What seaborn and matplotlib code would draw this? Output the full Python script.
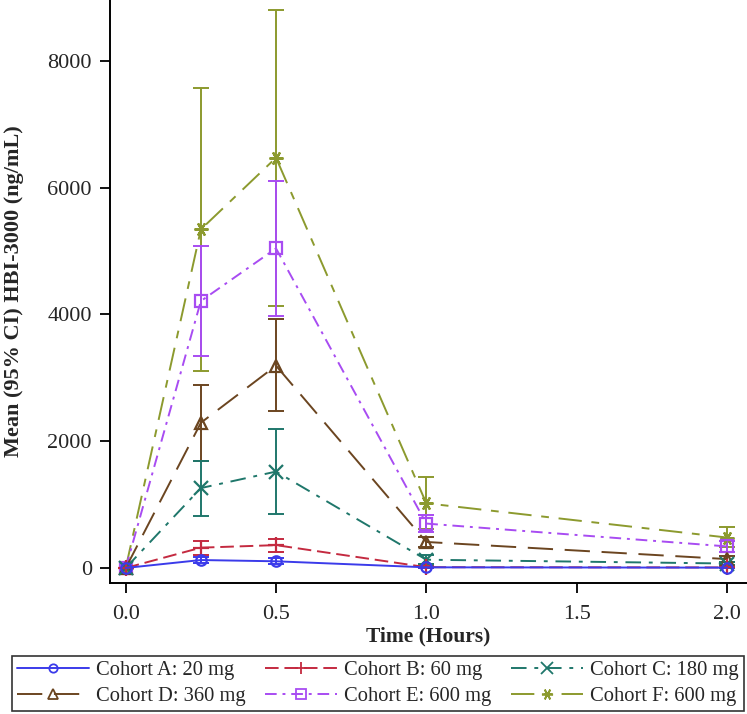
import matplotlib
matplotlib.use('Agg')
import matplotlib.pyplot as plt
from matplotlib.lines import Line2D
import seaborn as sns
import pandas as pd
import numpy as np

# time points (hours)
hours = [0.0, 0.25, 0.5, 1.0, 2.0]

cohorts = ['Cohort A: 20 mg', 'Cohort B: 60 mg', 'Cohort C: 180 mg',
           'Cohort D: 360 mg', 'Cohort E: 600 mg', 'Cohort F: 600 mg']

# mean concentration (ng/mL)
mean_a = [0, 125, 105, 10, 5]
mean_b = [0, 320, 360, 12, 8]
mean_c = [0, 1260, 1520, 130, 70]
mean_d = [0, 2290, 3190, 410, 140]
mean_e = [0, 4210, 5040, 700, 340]
mean_f = [0, 5340, 6470, 1020, 480]

# 95% CI lower / upper
lo_a = [0, 80, 60, 0, 0]
hi_a = [0, 170, 150, 20, 12]
lo_b = [0, 200, 250, 0, 0]
hi_b = [0, 430, 460, 25, 18]
lo_c = [0, 820, 850, 60, 40]
hi_c = [0, 1690, 2190, 200, 100]
lo_d = [0, 1690, 2470, 330, 90]
hi_d = [0, 2880, 3920, 490, 190]
lo_e = [0, 3340, 3970, 560, 250]
hi_e = [0, 5080, 6110, 840, 430]
lo_f = [0, 3110, 4130, 610, 330]
hi_f = [0, 7570, 8800, 1440, 640]

means = [mean_a, mean_b, mean_c, mean_d, mean_e, mean_f]
lows = [lo_a, lo_b, lo_c, lo_d, lo_e, lo_f]
highs = [hi_a, hi_b, hi_c, hi_d, hi_e, hi_f]

colors = ['#3b3bea', '#c42a40', '#1f776b', '#6b4520', '#a84cf2', '#8c9a2e']
markers = ['o', '+', 'x', '^', 's', (6, 2, 90)]
dashes = ['-', (0, (7, 3)), (0, (8, 4, 2, 4)), (0, (13, 6)), (0, (6, 3, 1.5, 3)), (0, (12, 5, 4, 5))]
msizes = [7.5, 11, 10, 8.5, 8.5, 10]

rows = []
for name, m in zip(cohorts, means):
    for h, v in zip(hours, m):
        rows.append({'cohort': name, 'hours': h, 'conc': v})
df = pd.DataFrame(rows)

sns.set_style('ticks')
plt.rcParams['font.family'] = ['Liberation Serif', 'DejaVu Serif']

fig = plt.figure(figsize=(7.47, 7.14), dpi=100)
ax = fig.add_axes([0.147, 0.1835, 0.853, 0.8165])

lw = 1.4
# draw in reverse order so cohort A ends on top
for i in reversed(range(6)):
    sub = df[df['cohort'] == cohorts[i]]
    m = np.array(means[i])
    err = [m - np.array(lows[i]), np.array(highs[i]) - m]
    ax.errorbar(hours, m, yerr=err, fmt='none', ecolor=colors[i], elinewidth=lw,
                capsize=5.8, capthick=lw, zorder=2)
    sns.lineplot(data=sub, x='hours', y='conc', ax=ax, color=colors[i],
                 linestyle=dashes[i], linewidth=lw, marker=markers[i],
                 markersize=msizes[i], markerfacecolor='none',
                 markeredgecolor=colors[i], markeredgewidth=1.6, zorder=3,
                 legend=False)

ax.set_xlim(-0.053, 2.067)
ax.set_ylim(-237, 8958)
ax.set_xticks([0.0, 0.5, 1.0, 1.5, 2.0])
ax.set_xticklabels(['0.0', '0.5', '1.0', '1.5', '2.0'])
ax.set_yticks([0, 2000, 4000, 6000, 8000])
ax.tick_params(axis='x', labelsize=16, length=7, width=1.3, pad=9,
               direction='out', color='black')
ax.tick_params(axis='y', labelsize=16, length=7, width=1.3, pad=6,
               direction='out', color='black')
for s in ['top', 'right']:
    ax.spines[s].set_visible(False)
for s in ['left', 'bottom']:
    ax.spines[s].set_linewidth(1.4)
    ax.spines[s].set_color('black')

ax.set_xlabel('Time (Hours)', fontsize=15.5, fontweight='bold', labelpad=2)
ax.set_ylabel('Mean (95% CI) HBI-3000 (ng/mL)', fontsize=16, fontweight='bold', labelpad=17)

handles = [Line2D([0], [0], color=colors[i], linestyle=dashes[i], linewidth=lw,
                  marker=markers[i], markersize=msizes[i] * 0.8, markerfacecolor='none',
                  markeredgecolor=colors[i], markeredgewidth=1.3)
           for i in range(6)]
# matplotlib fills legend columns first; reorder so rows read A B C / D E F
order = [0, 3, 1, 4, 2, 5]
leg = fig.legend([handles[k] for k in order], [cohorts[k] for k in order],
                 loc='lower center', bbox_to_anchor=(0.506, 0.0),
                 ncol=3, fontsize=14.8, frameon=True, fancybox=False, edgecolor='black',
                 handlelength=3.5, handletextpad=0.35, columnspacing=0.95,
                 borderpad=0.25, labelspacing=0.3, numpoints=1, borderaxespad=0.15)
leg.get_frame().set_linewidth(1.2)

fig.savefig('out.png', dpi=100)
